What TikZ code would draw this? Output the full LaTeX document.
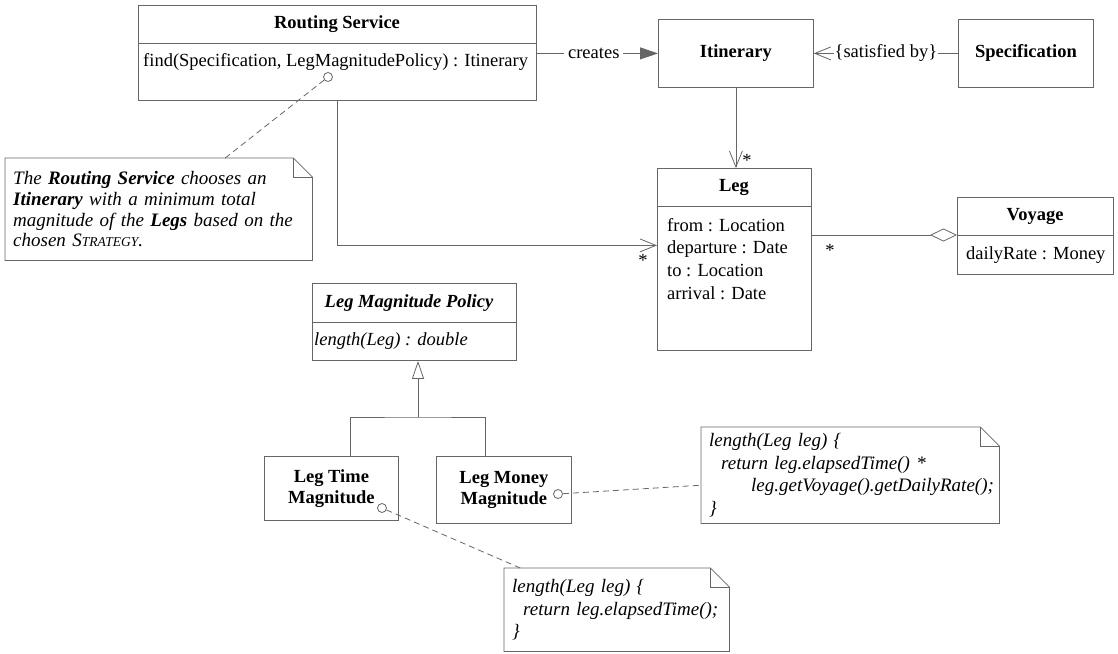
\documentclass[tikz,border=0pt]{standalone}
\usepackage{fontspec}
\setmainfont{Liberation Serif}
\usetikzlibrary{positioning,arrows.meta,calc}

% outline of a UML note with a folded corner
\newcommand\notefold[1]{%
  \draw[ln] (#1.north west) -- ([xshift=-19pt]#1.north east) -- ([yshift=-19pt]#1.north east)
    -- (#1.south east) -- (#1.south west) -- cycle;
  \draw[ln] ([xshift=-19pt]#1.north east) |- ([yshift=-19pt]#1.north east);}

\begin{document}
\begin{tikzpicture}[
  x=1pt, y=-1pt,
  font=\fontsize{18.5}{20.5}\selectfont,
  ln/.style={draw=black!60, line width=0.8pt},
  cls/.style={ln, anchor=north west, inner sep=0pt},
  heading/.style={font=\fontsize{18.5}{20.5}\selectfont\bfseries},
  memb/.style={anchor=west, inner sep=0pt},
  note/.style={anchor=north west, inner xsep=8pt, align=left, font=\fontsize{19}{20.7}\selectfont\itshape},
  code/.style={note, font=\fontsize{19}{22.5}\selectfont\itshape},
  lolly/.style={circle, ln, fill=white, inner sep=0pt, minimum size=9pt},
  tie/.style={ln, dash pattern=on 6pt off 4pt},
  barb/.style={ln, -{Straight Barb[length=16pt, width=13pt]}},
  mult/.style={inner sep=1pt},
]
  \useasboundingbox (0,0) rectangle (1118,653);

  % classes
  \node[cls, minimum width=398pt, minimum height=95pt] (rs) at (138,5) {};
  \node[heading] (rsname) at (337,24) {Routing Service};
  \node[memb] (rsop) at (143,62) {find(Specification, LegMagnitudePolicy) : Itinerary};
  \draw[ln] ($(rs.north west)+(0,38)$) -- ($(rs.north east)+(0,38)$);

  \node[cls, minimum width=155pt, minimum height=68pt, heading] (itin) at (658,19) {Itinerary};
  \node[cls, minimum width=135pt, minimum height=68pt, heading] (spec) at (958,19) {Specification};

  \node[cls, minimum width=154pt, minimum height=182pt] (leg) at (657,168) {};
  \node[heading] (legname) at (734,187) {Leg};
  \draw[ln] ($(leg.north west)+(0,38)$) -- ($(leg.north east)+(0,38)$);
  \node[anchor=north west, align=left, inner sep=0pt, font=\fontsize{18.5}{22.6}\selectfont] (legattr) at (667,218)
    {from : Location\\ departure : Date\\ to : Location\\ arrival : Date};

  \node[cls, minimum width=156pt, minimum height=77pt] (voy) at (957,197) {};
  \node[heading] (voyname) at (1035,216) {Voyage};
  \draw[ln] ($(voy.north west)+(0,38)$) -- ($(voy.north east)+(0,38)$);
  \node[memb] (voyattr) at (966,255) {dailyRate : Money};

  \node[cls, minimum width=204pt, minimum height=77pt] (lmp) at (312,283) {};
  \node[heading, font=\fontsize{18.5}{20.5}\selectfont\bfseries\itshape] (lmpname) at (409,303) {Leg Magnitude Policy};
  \draw[ln] ($(lmp.north west)+(0,39)$) -- ($(lmp.north east)+(0,39)$);
  \node[memb, font=\fontsize{18.5}{20.5}\selectfont\itshape] (lmpop) at (314,341) {length(Leg) : double};

  \node[cls, minimum width=134pt, minimum height=64pt, heading, align=center] (ltm) at (264,456) {Leg Time\\ Magnitude};
  \node[cls, minimum width=135pt, minimum height=67pt, heading, align=center] (lmm) at (436,456) {Leg Money\\ Magnitude};

  % notes
  \node[note, minimum width=307pt, minimum height=102pt, text width=291pt] (n1) at (5,158)
    {The \textbf{Routing Service} chooses an\\ \textbf{Itinerary} with a minimum total\\
     magnitude of the \textbf{Legs} based on the\\ chosen S{\fontsize{13.5}{15}\selectfont TRATEGY}.};
  \notefold{n1}
  \node[code, minimum width=298pt, minimum height=96pt, text width=282pt] (n2) at (701,427)
    {length(Leg leg) \{\\ \hspace*{12pt}return leg.elapsedTime() *\\
     \hspace*{42pt}leg.getVoyage().getDailyRate();\\ \}};
  \notefold{n2}
  \node[code, minimum width=225pt, minimum height=83pt, text width=209pt] (n3) at (504,568)
    {length(Leg leg) \{\\ \hspace*{11pt}return leg.elapsedTime();\\ \}};
  \notefold{n3}

  % note anchors
  \node[lolly] (rsdot) at (328,77) {};
  \node[lolly] (lmmdot) at (558,494) {};
  \node[lolly] (ltmdot) at (382,508) {};
  \draw[tie] (rsdot) -- ([xshift=66.5pt]n1.north);
  \draw[tie] (lmmdot) -- ([yshift=-10pt]n2.west);
  \draw[tie] (ltmdot) -- ([xshift=-96.5pt]n3.north);

  % associations
  \draw[ln, -{Triangle[length=18pt, width=12pt]}] (rs.east |- itin.west) --
    node[pos=0.47, fill=white, inner sep=4pt] (creates) {creates} (itin.west);
  \draw[barb] (spec.west) -- node[fill=white, inner sep=1pt] (satby) {\{satisfied by\}} (itin.east);
  \draw[barb] (itin.south) -- (itin.south |- leg.north);
  \draw[barb] (rs.south) |- ([yshift=14pt]leg.west);
  \draw[ln, -{Diamond[open, length=27pt, width=13pt]}] (leg.east |- 0,235) -- (voy.west |- 0,235);
  \node[mult] (m1) at (747,160) {*};
  \node[mult] (m2) at (643,260) {*};
  \node[mult] (m3) at (830,250) {*};

  % generalization
  \coordinate (gen) at (418,417);
  \draw[ln, -{Triangle[open, length=18pt, width=12pt]}] (gen) -- (lmp.south -| gen);
  \draw[ln] ([xshift=19pt]ltm.north) |- (gen) -| ([xshift=-18.5pt]lmm.north);
\end{tikzpicture}
\end{document}
